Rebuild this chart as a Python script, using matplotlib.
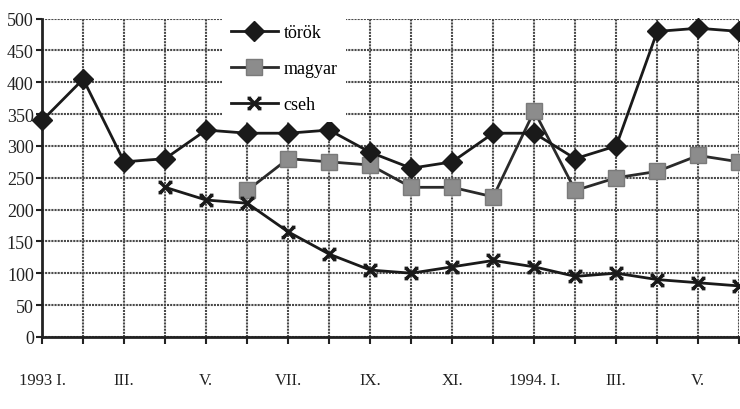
import matplotlib.pyplot as plt
import numpy as np
from matplotlib.path import Path

# data (monthly, 1993 I. .. 1994 VI.)
months = np.arange(18)
tick_pos = [0, 2, 4, 6, 8, 10, 12, 14, 16]
tick_labels = ["1993 I.", "III.", "V.", "VII.", "IX.", "XI.", "1994. I.", "III.", "V."]

torok = [340, 405, 275, 280, 325, 320, 320, 325, 290, 265, 275, 320, 320, 280, 300, 480, 485, 480]
magyar_x = months[5:]
magyar = [230, 280, 275, 270, 235, 235, 220, 355, 230, 250, 260, 285, 275]
cseh_x = months[3:]
cseh = [235, 215, 210, 165, 130, 105, 100, 110, 120, 110, 95, 100, 90, 85, 80]

plt.rcParams["font.family"] = ["Liberation Serif", "DejaVu Serif"]

# X with small serifs at each end, like the printed marker
verts = [(-1, -1), (1, 1), (-1, 1), (1, -1)]
codes = [Path.MOVETO, Path.LINETO, Path.MOVETO, Path.LINETO]
for cx, cy in [(-1, 1), (1, 1), (-1, -1), (1, -1)]:
    verts += [(cx - 0.35, cy), (cx + 0.35, cy)]
    codes += [Path.MOVETO, Path.LINETO]
cross = Path(verts, codes)

fig = plt.figure(figsize=(7.4, 4.1), dpi=100)
ax = fig.add_axes([0.057, 0.176, 0.942, 0.776])

ax.plot(months, torok, color="#1a1a1a", lw=2, marker="D", ms=10,
        mfc="#1a1a1a", mec="#1a1a1a", label="török", clip_on=False, zorder=4)
ax.plot(magyar_x, magyar, color="#2a2a2a", lw=2, marker="s", ms=11,
        mfc="#8c8c8c", mec="#7a7a7a", label="magyar", clip_on=False, zorder=3)
ax.plot(cseh_x, cseh, color="#1a1a1a", lw=2, marker=cross, ms=10, mew=2.5,
        label="cseh", clip_on=False, zorder=3)

ax.set_xlim(0, 17)
ax.set_ylim(0, 500)
ax.set_yticks(np.arange(0, 501, 50))
ax.set_xticks(months, minor=True)
ax.set_xticks(tick_pos)
ax.set_xticklabels(tick_labels)

ax.grid(True, which="both", color="#4a4a4a", lw=1.5, ls=(0, (1, 0.5)))
ax.set_axisbelow(True)

for s in ["top", "right"]:
    ax.spines[s].set_visible(False)
ax.spines["left"].set_linewidth(2)
ax.spines["bottom"].set_linewidth(2)
ax.spines["left"].set_color("#222222")
ax.spines["bottom"].set_color("#222222")

ax.tick_params(axis="y", length=4, width=1.5, labelsize=13, pad=2, colors="#222222")
ax.tick_params(axis="x", which="both", length=5, width=1.5, direction="out",
               labelsize=12, pad=20, colors="#222222")

leg = ax.legend(loc="upper left", bbox_to_anchor=(0.245, 1.04), frameon=True,
                fontsize=13, handlelength=2.6, labelspacing=1.05,
                borderpad=0.5, handletextpad=0.3)
leg.get_frame().set_edgecolor("none")
leg.get_frame().set_facecolor("white")
leg.get_frame().set_alpha(1)

fig.savefig("out.png", dpi=100)
